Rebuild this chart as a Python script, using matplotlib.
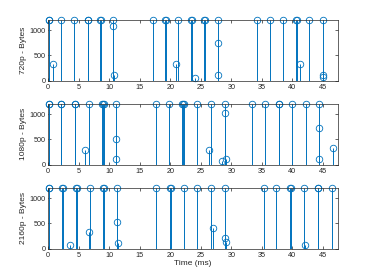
import numpy as np
import matplotlib.pyplot as plt

plt.rcParams['font.family'] = ['Liberation Sans', 'DejaVu Sans']

# packet times (ms) and sizes (bytes) for each resolution
t720 = [0.05, 0.1, 0.8, 2.1, 4.3, 6.45, 6.55, 8.55, 8.65, 10.6, 10.65, 10.7,
        17.1, 19.2, 19.3, 21.0, 21.3, 23.4, 23.5, 24.1, 25.6, 25.7, 27.8, 27.85, 27.9,
        34.2, 36.4, 38.5, 40.6, 40.7, 41.3, 42.8, 45.0, 45.0, 45.05]
b720 = [1200, 1200, 330, 1200, 1200, 1200, 1200, 1200, 1200, 1200, 1080, 110,
        1200, 1200, 1200, 330, 1200, 1200, 1200, 66, 1200, 1200, 1200, 750, 118,
        1200, 1200, 1200, 1200, 1200, 330, 1200, 1200, 118, 80]

t1080 = [0.05, 0.1, 2.05, 2.15, 4.35, 4.45, 6.0, 6.6, 8.8, 8.9, 9.1, 11.1, 11.1, 11.15,
         17.6, 19.8, 22.0, 22.1, 22.3, 24.4, 26.4, 26.6, 28.4, 28.9, 29.0, 29.05,
         33.4, 35.6, 37.75, 37.85, 40.0, 42.2, 44.4, 44.4, 44.45, 46.7]
b1080 = [1200, 1200, 1200, 1200, 1200, 1200, 296, 1200, 1200, 1200, 1200, 1200, 513, 112,
         1200, 1200, 1200, 1200, 1200, 1200, 296, 1200, 79, 1200, 1020, 112,
         1200, 1200, 1200, 1200, 1200, 1200, 1200, 724, 112, 335]

t2160 = [0.05, 0.1, 2.25, 2.35, 3.6, 4.6, 4.7, 6.6, 6.85, 9.05, 9.15, 11.3, 11.3, 11.35,
         17.7, 19.95, 20.05, 22.2, 24.45, 26.7, 27.0, 28.95, 29.0, 29.05,
         35.3, 37.4, 39.65, 39.75, 41.9, 42.0, 44.15, 44.25, 46.5]
b2160 = [1200, 1200, 1200, 1200, 72, 1200, 1200, 335, 1200, 1200, 1200, 1200, 520, 112,
         1200, 1200, 1200, 1200, 1200, 1200, 414, 1200, 210, 132,
         1200, 1200, 1200, 1200, 1200, 72, 1200, 1200, 1200]

ylabels = ['720p - Bytes', '1080p - Bytes', '2160p - Bytes']
series = [(t720, b720), (t1080, b1080), (t2160, b2160)]

blue = '#0072BD'
fig = plt.figure(figsize=(3.74, 2.8), dpi=100)
bottoms = [0.711, 0.411, 0.111]

for i, (t, b) in enumerate(series):
    ax = fig.add_axes([0.129, bottoms[i], 0.775, 0.218])
    ax.vlines(t, 0, b, color=blue, lw=0.7)
    ax.plot(t, b, 'o', ms=4.7, mfc='none', mec=blue, mew=0.6, clip_on=False)
    ax.set_xlim(0, 47.5)
    ax.set_ylim(0, 1200)
    ax.set_xticks(np.arange(0, 46, 5))
    ax.set_yticks([0, 500, 1000])
    ax.tick_params(direction='in', top=True, right=True, labelsize=5.2,
                   length=2, width=0.5, colors='#262626', pad=2)
    for s in ax.spines.values():
        s.set_linewidth(0.5)
        s.set_color('#262626')
    ax.set_ylabel(ylabels[i], fontsize=6, color='#262626', labelpad=2)
    if i == 2:
        ax.set_xlabel('Time (ms)', fontsize=6, color='#262626', labelpad=1)

fig.savefig('out.png', dpi=100)
